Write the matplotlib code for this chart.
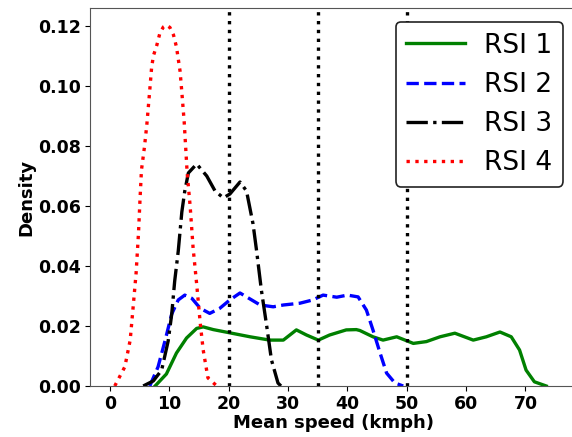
import matplotlib
matplotlib.use("Agg")
import matplotlib.pyplot as plt

# RSI 1 (green, solid)
rsi1_x = [7.6, 9.5, 11.2, 12.9, 14.6, 15.7, 17.4, 20.5, 23.6, 26.9, 29.2, 31.4, 33.1, 35.1, 37.0,
          39.8, 41.5, 42.1, 44.3, 46.0, 48.3, 51.1, 53.3, 55.6, 58.1, 61.2, 63.4, 65.7, 67.6,
          69.0, 70.1, 71.5, 73.5]
rsi1_y = [0.0, 0.004, 0.011, 0.016, 0.0192, 0.0197, 0.0188, 0.0176, 0.0164, 0.0153, 0.0153, 0.0187,
          0.017, 0.0153, 0.017, 0.0187, 0.0188, 0.0185, 0.0164, 0.0153, 0.0164, 0.0142, 0.0148,
          0.0164, 0.0176, 0.0153, 0.0164, 0.018, 0.0164, 0.012, 0.0053, 0.0014, 0.0]

# RSI 2 (blue, dashed)
rsi2_x = [6.7, 8.1, 9.3, 10.4, 11.5, 12.6, 13.8, 15.2, 16.8, 18.5, 20.2, 21.9, 23.6, 25.3, 27.5,
          29.2, 32.0, 34.2, 35.9, 38.2, 40.0, 41.8, 43.2, 44.3, 45.5, 46.6, 48.0, 49.4]
rsi2_y = [0.0, 0.0064, 0.0153, 0.024, 0.0287, 0.0303, 0.0292, 0.0259, 0.0242, 0.0259, 0.0287, 0.031,
          0.029, 0.027, 0.0264, 0.027, 0.0276, 0.0287, 0.0303, 0.0296, 0.0303, 0.0297, 0.0253,
          0.0187, 0.011, 0.0043, 0.001, 0.0]

# RSI 3 (black, dash-dot)
rsi3_x = [5.6, 7.3, 8.7, 9.8, 10.4, 10.9, 11.5, 12.1, 12.6, 13.2, 14.6, 16.3, 17.7, 19.1, 20.2,
          21.9, 23.0, 24.1, 24.7, 25.5, 26.4, 27.2, 28.3, 28.8]
rsi3_y = [0.0, 0.0017, 0.0053, 0.015, 0.024, 0.035, 0.045, 0.058, 0.065, 0.071, 0.074, 0.070,
          0.065, 0.0627, 0.064, 0.068, 0.065, 0.054, 0.045, 0.032, 0.020, 0.0087, 0.001, 0.0]

# RSI 4 (red, dotted)
rsi4_x = [0.8, 2.5, 3.4, 3.9, 4.4, 4.8, 5.05, 5.3, 5.8, 6.2, 6.7, 7.0, 7.3, 7.9, 8.4, 9.0, 9.5,
          10.1, 10.7, 11.2, 11.5, 11.8, 12.1, 12.5, 13.0, 13.5, 14.0, 14.6, 15.2, 15.7, 16.5, 18.0]
rsi4_y = [0.0, 0.0064, 0.0153, 0.0264, 0.0377, 0.051, 0.062, 0.072, 0.0796, 0.087, 0.0987, 0.1059,
          0.11, 0.1137, 0.1176, 0.1197, 0.1203, 0.1195, 0.117, 0.113, 0.109, 0.105, 0.098, 0.088,
          0.071, 0.06, 0.046, 0.034, 0.021, 0.012, 0.0027, 0.0]

labels = ["RSI 1", "RSI 2", "RSI 3", "RSI 4"]
thresholds = [20, 35, 50]
xticks = [0, 10, 20, 30, 40, 50, 60, 70]
yticks = [0.0, 0.02, 0.04, 0.06, 0.08, 0.10, 0.12]

fig = plt.figure(figsize=(5.72, 4.37), dpi=100)
ax_w = 1 - 90 / 572 + 0.01
ax = fig.add_axes([90 / 572, 1 - 386 / 437, ax_w, (386 - 8) / 437])

lw = 2.4
ax.plot(rsi1_x, rsi1_y, color="green", linestyle="-", linewidth=lw, label=labels[0])
ax.plot(rsi2_x, rsi2_y, color="blue", linestyle="--", linewidth=lw, label=labels[1])
ax.plot(rsi3_x, rsi3_y, color="black", linestyle="-.", linewidth=lw, label=labels[2])
ax.plot(rsi4_x, rsi4_y, color="red", linestyle=":", linewidth=lw, label=labels[3])

for t in thresholds:
    ax.axvline(t, color="black", linestyle=":", linewidth=2.4)

ax.set_xlim(-3.37, 78.8)
ax.set_ylim(0, 0.126)
ax.set_xticks(xticks)
ax.set_yticks(yticks)
ax.set_yticklabels([f"{v:.2f}" for v in yticks])
for lab in ax.get_xticklabels() + ax.get_yticklabels():
    lab.set_fontweight("bold")
    lab.set_fontsize(12.5)
ax.tick_params(pad=3)
ax.set_xlabel("Mean speed (kmph)", fontsize=13, fontweight="bold", labelpad=1)
ax.set_ylabel("Density", fontsize=13, fontweight="bold", labelpad=2)
for s in ax.spines.values():
    s.set_color("#555555")

ax_px = ax_w * 572
leg = ax.legend(loc="upper right", bbox_to_anchor=((563 - 90) / ax_px, 1 - 14 / 378),
                fontsize=19, handlelength=2.2, handletextpad=0.75, framealpha=1, fancybox=True,
                borderaxespad=0, labelspacing=0.5, borderpad=0.4)
leg.get_frame().set_edgecolor("#222222")
leg.get_frame().set_linewidth(1.2)

fig.savefig("out.png", dpi=100)
